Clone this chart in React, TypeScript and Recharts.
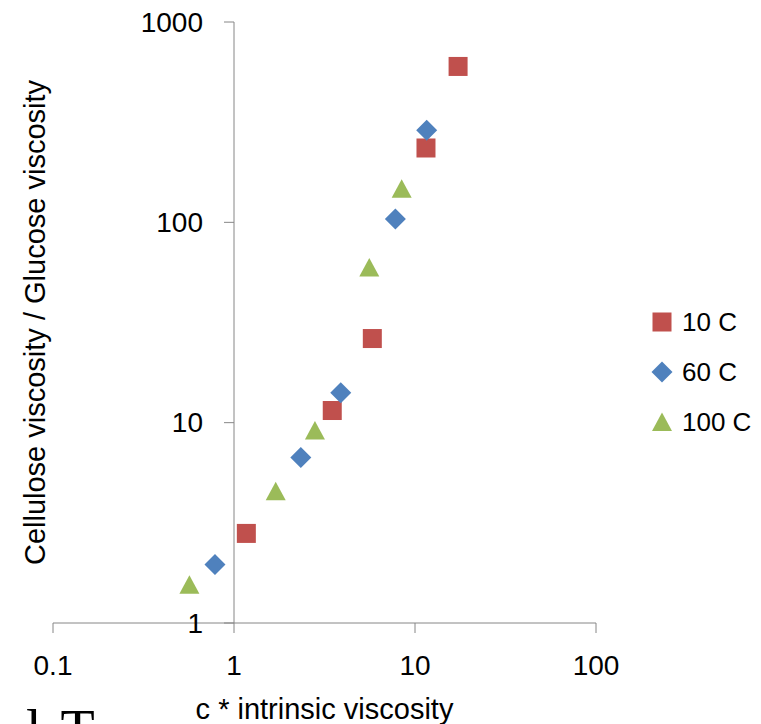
import React from 'react';
import { ScatterChart, Scatter, XAxis, YAxis, ReferenceLine, Legend } from 'recharts';

// viscosity ratio vs c*[eta], three temperatures
const seriesNames = ['10 C', '60 C', '100 C'];
const x10 = [1.17, 3.49, 5.81, 11.5, 17.3];
const y10 = [2.8, 11.5, 26.3, 235, 600];
const x60 = [0.785, 2.34, 3.89, 7.79, 11.6];
const y60 = [1.96, 6.7, 14.1, 104, 288];
const x100 = [0.567, 1.7, 2.8, 5.59, 8.44];
const y100 = [1.55, 4.54, 9.14, 59.5, 147];
const xTicks = [0.1, 1, 10, 100];
const yTicks = [1, 10, 100, 1000];

const W = 761;
const H = 724;
const PLOT_LEFT = 53;
const PLOT_TOP = 22;
const PLOT_RIGHT = 596;
const PLOT_BOTTOM = 623;
const YAXIS_W = 36;
const XAXIS_H = 60;

const AXIS = '#868686';
const RED = '#C0504D';
const BLUE = '#4F81BD';
const GREEN = '#9BBB59';
const FONT = '"Liberation Sans", Arial, sans-serif';

// value axis crosses the category axis at x = 1
const Y_CROSS =
  PLOT_LEFT +
  ((PLOT_RIGHT - PLOT_LEFT) * (Math.log10(1) - Math.log10(xTicks[0]))) /
    (Math.log10(xTicks[xTicks.length - 1]) - Math.log10(xTicks[0]));

const toPoints = (xs: number[], ys: number[]) => xs.map((x, i) => ({ x, y: ys[i] }));

const Square = ({ cx, cy }: any) => (
  <rect x={cx - 9.5} y={cy - 9.5} width={19} height={19} fill={RED} />
);
const Diamond = ({ cx, cy }: any) => (
  <polygon points={`${cx},${cy - 10.5} ${cx + 10.5},${cy} ${cx},${cy + 10.5} ${cx - 10.5},${cy}`} fill={BLUE} />
);
const Triangle = ({ cx, cy }: any) => (
  <polygon points={`${cx},${cy - 9.5} ${cx + 10},${cy + 9} ${cx - 10},${cy + 9}`} fill={GREEN} />
);

const YTick = ({ y, payload }: any) => (
  <g>
    <line x1={Y_CROSS - 10} x2={Y_CROSS} y1={y} y2={y} stroke={AXIS} />
    <text x={Y_CROSS - 31} y={y} dy="0.35em" textAnchor="end" fontSize={28} fontFamily={FONT} fill="#000">
      {payload.value}
    </text>
  </g>
);

const icons = [
  <rect key="s" x={2.5} y={2.5} width={19} height={19} fill={RED} />,
  <polygon key="d" points="12,1.5 22.5,12 12,22.5 1.5,12" fill={BLUE} />,
  <polygon key="t" points="12,2.5 22,21 2,21" fill={GREEN} />,
];

const LegendBox = () => (
  <div style={{ fontFamily: FONT, fontSize: 26, color: '#000' }}>
    {seriesNames.map((name, i) => (
      <div key={name} style={{ display: 'flex', alignItems: 'center', height: 50 }}>
        <svg width={24} height={24}>{icons[i]}</svg>
        <span style={{ marginLeft: 8 }}>{name}</span>
      </div>
    ))}
  </div>
);

export default function App() {
  return (
    <div style={{ position: 'absolute', left: 0, top: 0, width: W, height: H, overflow: 'hidden', background: '#fff' }}>
      <ScatterChart
        width={W}
        height={H}
        margin={{ top: PLOT_TOP, right: W - PLOT_RIGHT, bottom: H - PLOT_BOTTOM - XAXIS_H, left: PLOT_LEFT - YAXIS_W }}
      >
        <XAxis
          dataKey="x"
          type="number"
          scale="log"
          domain={[0.1, 100]}
          ticks={xTicks}
          allowDataOverflow
          height={XAXIS_H}
          stroke={AXIS}
          tickSize={10}
          tickMargin={22}
          tick={{ fill: '#000', fontSize: 28, fontFamily: FONT }}
          tickFormatter={(v: number) => String(v)}
          label={{ value: 'c * intrinsic viscosity', position: 'bottom', offset: 15, fill: '#000', fontSize: 29, fontFamily: FONT }}
        />
        <YAxis
          dataKey="y"
          type="number"
          scale="log"
          domain={[1, 1000]}
          ticks={yTicks}
          allowDataOverflow
          width={YAXIS_W}
          axisLine={false}
          tickLine={false}
          tick={<YTick />}
          label={{ value: 'Cellulose viscosity / Glucose viscosity', angle: -90, position: 'center', fill: '#000', fontSize: 29, fontFamily: FONT }}
        />
        <ReferenceLine x={1} stroke={AXIS} />
        <Scatter name={seriesNames[0]} data={toPoints(x10, y10)} shape={<Square />} isAnimationActive={false} />
        <Scatter name={seriesNames[1]} data={toPoints(x60, y60)} shape={<Diamond />} isAnimationActive={false} />
        <Scatter name={seriesNames[2]} data={toPoints(x100, y100)} shape={<Triangle />} isAnimationActive={false} />
        <Legend
          layout="horizontal"
          verticalAlign="middle"
          align="center"
          wrapperStyle={{ left: 650, top: 297, width: 111 }}
          content={() => <LegendBox />}
        />
      </ScatterChart>
      {/* tail of the caption line below the figure */}
      <div
        style={{
          position: 'absolute',
          left: 26,
          top: 702,
          fontFamily: '"Liberation Serif", serif',
          fontSize: 56,
          lineHeight: '56px',
          color: '#000',
          whiteSpace: 'pre',
          wordSpacing: 6,
        }}
      >
        l T
      </div>
    </div>
  );
}
